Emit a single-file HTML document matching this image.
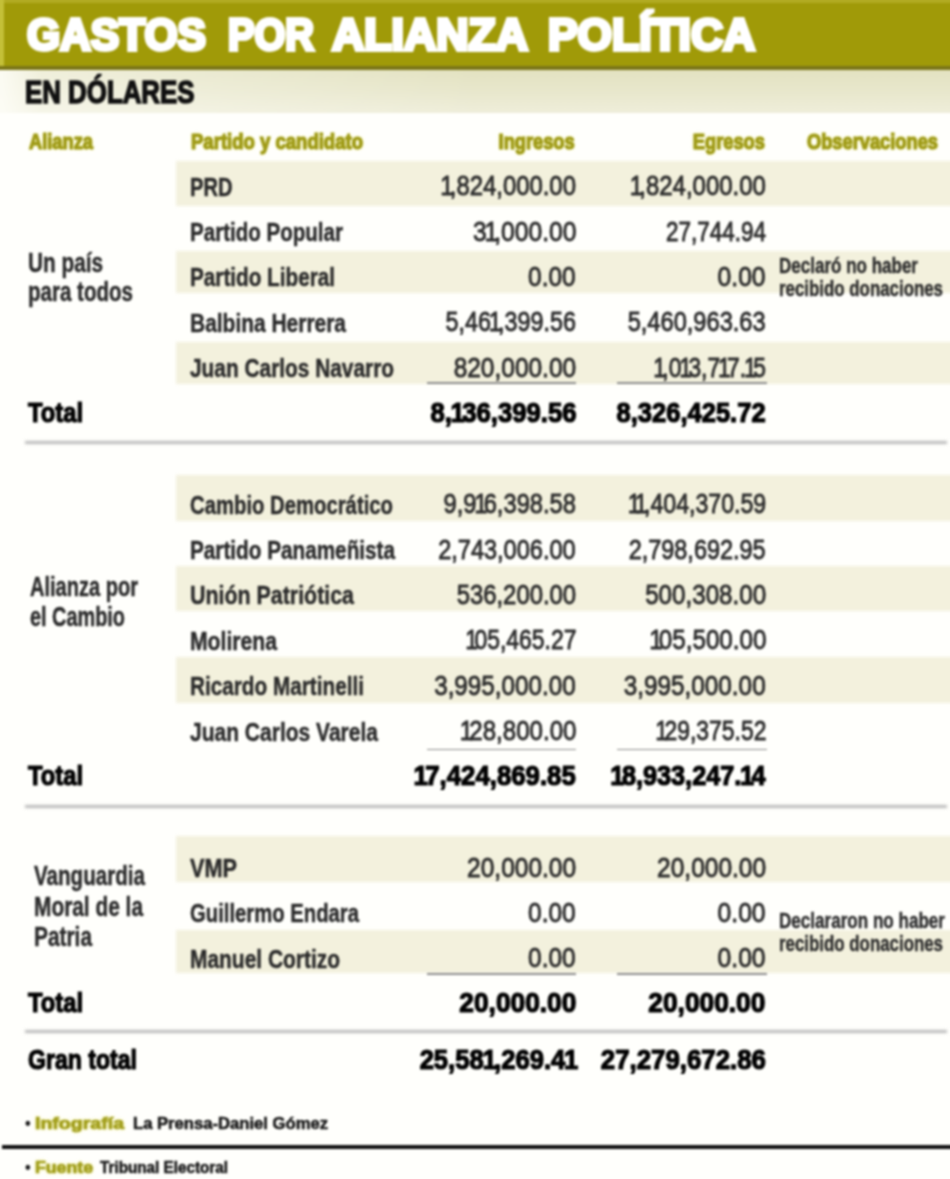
<!DOCTYPE html>
<html lang="es"><head><meta charset="utf-8"><title>Gastos por alianza política</title>
<style>
html,body{margin:0;padding:0;background:#fffffb;}
#pg{position:relative;width:950px;height:1179px;overflow:hidden;background:#fffffc;font-family:"Liberation Sans", sans-serif;}
#in{position:absolute;left:0;top:0;width:950px;height:1179px;filter:blur(1.1px);}
.t{position:absolute;white-space:nowrap;line-height:1;display:block;}
.l{transform-origin:0 0;}
.r{transform-origin:100% 0;}
.b{position:absolute;}
.s{left:176px;width:800px;background:#f3f1dd;filter:blur(1.2px);}
.t i{font-style:normal;margin:0 -0.16em 0 -0.09em;}
.t b{margin:0 -0.1em 0 -0.05em;}
</style></head><body>
<div id="pg"><div id="in">
<div class="b" style="left:-20px;top:-20px;width:990px;height:88.5px;background:#a09a08"></div>
<div class="b" style="left:-20px;top:-20px;width:990px;height:22.5px;background:#b2ab22"></div>
<div class="b" style="left:-20px;top:-20px;width:24px;height:88.5px;background:#c4c038"></div>
<div class="b" style="left:-20px;top:66px;width:990px;height:3.6px;background:#7b7618"></div>
<div class="b" style="left:-20px;top:69.6px;width:990px;height:43px;background:linear-gradient(180deg,#e3e2c1 0,#e8e7cc 50%,#efeeda 100%)"></div>
<div class="b" style="left:-20px;top:69.6px;width:500px;height:43px;background:linear-gradient(90deg,rgba(255,255,250,.85) 0,rgba(255,255,250,.85) 22px,rgba(255,255,250,.45) 60px,rgba(255,255,250,.3) 200px,rgba(255,255,250,0) 100%)"></div>
<div class="b s" style="top:161.2px;height:44.5px"></div>
<div class="b s" style="top:251.2px;height:42.0px"></div>
<div class="b s" style="top:341.8px;height:42.0px"></div>
<div class="b s" style="top:475.3px;height:46.0px"></div>
<div class="b s" style="top:566.2px;height:45.3px"></div>
<div class="b s" style="top:657.2px;height:46.0px"></div>
<div class="b s" style="top:836.0px;height:45.5px"></div>
<div class="b s" style="top:930.4px;height:43.0px"></div>
<div class="b" style="left:25px;top:440.7px;width:922px;height:3.6px;background:#b9b9b9;filter:blur(1.2px)"></div>
<div class="b" style="left:25px;top:804.6px;width:922px;height:3.6px;background:#b9b9b9;filter:blur(1.2px)"></div>
<div class="b" style="left:25px;top:1030.2px;width:922px;height:3.2px;background:#b9b9b9;filter:blur(1.2px)"></div>
<div class="b" style="left:427px;top:382.4px;width:149px;height:1.6px;background:#8e8e8e"></div>
<div class="b" style="left:617px;top:382.4px;width:150px;height:1.6px;background:#8e8e8e"></div>
<div class="b" style="left:427px;top:748.6px;width:149px;height:1.6px;background:#8e8e8e"></div>
<div class="b" style="left:617px;top:748.6px;width:150px;height:1.6px;background:#8e8e8e"></div>
<div class="b" style="left:427px;top:973.4px;width:149px;height:1.6px;background:#8e8e8e"></div>
<div class="b" style="left:617px;top:973.4px;width:150px;height:1.6px;background:#8e8e8e"></div>
<div class="b" style="left:2px;top:1144.9px;width:970px;height:4.4px;background:#111"></div>
<span id="t0" class="t l" style="top:12.88px;font-size:44.2px;font-weight:700;color:#ffffff;left:27px;transform:scaleX(0.9634);-webkit-text-stroke:4px #ffffff;">GASTOS</span>
<span id="t1" class="t l" style="top:12.88px;font-size:44.2px;font-weight:700;color:#ffffff;left:228px;transform:scaleX(0.8980);-webkit-text-stroke:4px #ffffff;">POR</span>
<span id="t2" class="t l" style="top:12.88px;font-size:44.2px;font-weight:700;color:#ffffff;left:332px;transform:scaleX(1.0108);-webkit-text-stroke:4px #ffffff;">ALIANZA</span>
<span id="t3" class="t l" style="top:12.88px;font-size:44.2px;font-weight:700;color:#ffffff;left:548px;transform:scaleX(1.0039);-webkit-text-stroke:4px #ffffff;">POLÍTICA</span>
<span id="t4" class="t l" style="top:75.81px;font-size:32px;font-weight:700;color:#111;left:25.2px;transform:scaleX(0.8079);-webkit-text-stroke:1.5px #111;">EN DÓLARES</span>
<span id="t5" class="t l" style="top:132.10px;font-size:21.5px;font-weight:700;color:#9f9b18;left:28.5px;transform:scaleX(0.8501);-webkit-text-stroke:1.2px #9f9b18;text-shadow:0 0 3px rgba(234,230,92,.95);">Alianza</span>
<span id="t6" class="t l" style="top:132.10px;font-size:21.5px;font-weight:700;color:#9f9b18;left:190.5px;transform:scaleX(0.8621);-webkit-text-stroke:1.2px #9f9b18;text-shadow:0 0 3px rgba(234,230,92,.95);">Partido y candidato</span>
<span id="t7" class="t r" style="top:132.10px;font-size:21.5px;font-weight:700;color:#9f9b18;right:375.5px;transform:scaleX(0.8480);-webkit-text-stroke:1.2px #9f9b18;text-shadow:0 0 3px rgba(234,230,92,.95);">Ingresos</span>
<span id="t8" class="t r" style="top:132.10px;font-size:21.5px;font-weight:700;color:#9f9b18;right:185.5px;transform:scaleX(0.8485);-webkit-text-stroke:1.2px #9f9b18;text-shadow:0 0 3px rgba(234,230,92,.95);">Egresos</span>
<span id="t9" class="t l" style="top:132.10px;font-size:21.5px;font-weight:700;color:#9f9b18;left:806.5px;transform:scaleX(0.8497);-webkit-text-stroke:1.2px #9f9b18;text-shadow:0 0 3px rgba(234,230,92,.95);">Observaciones</span>
<span id="t10" class="t l" style="top:173.57px;font-size:26.5px;font-weight:700;color:#2a2a2a;left:190px;transform:scaleX(0.7596);-webkit-text-stroke:0.45px #2a2a2a;">PRD</span>
<span id="t11" class="t r" style="top:173.14px;font-size:27px;font-weight:400;color:#2c2c2c;right:374px;transform:scaleX(0.8845);-webkit-text-stroke:0.85px #2c2c2c;"><i>1</i>,824,000.00</span>
<span id="t12" class="t r" style="top:173.14px;font-size:27px;font-weight:400;color:#2c2c2c;right:184px;transform:scaleX(0.8878);-webkit-text-stroke:0.85px #2c2c2c;"><i>1</i>,824,000.00</span>
<span id="t13" class="t l" style="top:218.97px;font-size:26.5px;font-weight:700;color:#2a2a2a;left:190px;transform:scaleX(0.7754);-webkit-text-stroke:0.45px #2a2a2a;">Partido Popular</span>
<span id="t14" class="t r" style="top:218.54px;font-size:27px;font-weight:400;color:#2c2c2c;right:374px;transform:scaleX(0.9125);-webkit-text-stroke:0.85px #2c2c2c;">3<i>1</i>,000.00</span>
<span id="t15" class="t r" style="top:218.54px;font-size:27px;font-weight:400;color:#2c2c2c;right:184px;transform:scaleX(0.8325);-webkit-text-stroke:0.85px #2c2c2c;">27,744.94</span>
<span id="t16" class="t l" style="top:264.37px;font-size:26.5px;font-weight:700;color:#2a2a2a;left:190px;transform:scaleX(0.7815);-webkit-text-stroke:0.45px #2a2a2a;">Partido Liberal</span>
<span id="t17" class="t r" style="top:263.94px;font-size:27px;font-weight:400;color:#2c2c2c;right:374px;transform:scaleX(0.9037);-webkit-text-stroke:0.85px #2c2c2c;">0.00</span>
<span id="t18" class="t r" style="top:263.94px;font-size:27px;font-weight:400;color:#2c2c2c;right:184px;transform:scaleX(0.9132);-webkit-text-stroke:0.85px #2c2c2c;">0.00</span>
<span id="t19" class="t l" style="top:309.77px;font-size:26.5px;font-weight:700;color:#2a2a2a;left:190px;transform:scaleX(0.7904);-webkit-text-stroke:0.45px #2a2a2a;">Balbina Herrera</span>
<span id="t20" class="t r" style="top:309.34px;font-size:27px;font-weight:400;color:#2c2c2c;right:374px;transform:scaleX(0.8645);-webkit-text-stroke:0.85px #2c2c2c;">5,46<i>1</i>,399.56</span>
<span id="t21" class="t r" style="top:309.34px;font-size:27px;font-weight:400;color:#2c2c2c;right:184px;transform:scaleX(0.8753);-webkit-text-stroke:0.85px #2c2c2c;">5,460,963.63</span>
<span id="t22" class="t l" style="top:355.17px;font-size:26.5px;font-weight:700;color:#2a2a2a;left:190px;transform:scaleX(0.7870);-webkit-text-stroke:0.45px #2a2a2a;">Juan Carlos Navarro</span>
<span id="t23" class="t r" style="top:354.74px;font-size:27px;font-weight:400;color:#2c2c2c;right:374px;transform:scaleX(0.9065);-webkit-text-stroke:0.85px #2c2c2c;">820,000.00</span>
<span id="t24" class="t r" style="top:354.74px;font-size:27px;font-weight:400;color:#2c2c2c;right:184px;transform:scaleX(0.8446);-webkit-text-stroke:0.85px #2c2c2c;"><i>1</i>,0<i>1</i>3,7<i>1</i>7.<i>1</i>5</span>
<span id="t25" class="t l" style="top:491.57px;font-size:26.5px;font-weight:700;color:#2a2a2a;left:190px;transform:scaleX(0.7658);-webkit-text-stroke:0.45px #2a2a2a;">Cambio Democrático</span>
<span id="t26" class="t r" style="top:491.14px;font-size:27px;font-weight:400;color:#2c2c2c;right:374px;transform:scaleX(0.8778);-webkit-text-stroke:0.85px #2c2c2c;">9,9<i>1</i>6,398.58</span>
<span id="t27" class="t r" style="top:491.14px;font-size:27px;font-weight:400;color:#2c2c2c;right:184px;transform:scaleX(0.8572);-webkit-text-stroke:0.85px #2c2c2c;"><i>1</i><i>1</i>,404,370.59</span>
<span id="t28" class="t l" style="top:536.97px;font-size:26.5px;font-weight:700;color:#2a2a2a;left:190px;transform:scaleX(0.7820);-webkit-text-stroke:0.45px #2a2a2a;">Partido Panameñista</span>
<span id="t29" class="t r" style="top:536.54px;font-size:27px;font-weight:400;color:#2c2c2c;right:374px;transform:scaleX(0.8722);-webkit-text-stroke:0.85px #2c2c2c;">2,743,006.00</span>
<span id="t30" class="t r" style="top:536.54px;font-size:27px;font-weight:400;color:#2c2c2c;right:184px;transform:scaleX(0.8690);-webkit-text-stroke:0.85px #2c2c2c;">2,798,692.95</span>
<span id="t31" class="t l" style="top:582.37px;font-size:26.5px;font-weight:700;color:#2a2a2a;left:190px;transform:scaleX(0.8071);-webkit-text-stroke:0.45px #2a2a2a;">Unión Patriótica</span>
<span id="t32" class="t r" style="top:581.94px;font-size:27px;font-weight:400;color:#2c2c2c;right:374px;transform:scaleX(0.8843);-webkit-text-stroke:0.85px #2c2c2c;">536,200.00</span>
<span id="t33" class="t r" style="top:581.94px;font-size:27px;font-weight:400;color:#2c2c2c;right:184px;transform:scaleX(0.8954);-webkit-text-stroke:0.85px #2c2c2c;">500,308.00</span>
<span id="t34" class="t l" style="top:627.77px;font-size:26.5px;font-weight:700;color:#2a2a2a;left:190px;transform:scaleX(0.7984);-webkit-text-stroke:0.45px #2a2a2a;">Molirena</span>
<span id="t35" class="t r" style="top:627.34px;font-size:27px;font-weight:400;color:#2c2c2c;right:374px;transform:scaleX(0.8488);-webkit-text-stroke:0.85px #2c2c2c;"><i>1</i>05,465.27</span>
<span id="t36" class="t r" style="top:627.34px;font-size:27px;font-weight:400;color:#2c2c2c;right:184px;transform:scaleX(0.8955);-webkit-text-stroke:0.85px #2c2c2c;"><i>1</i>05,500.00</span>
<span id="t37" class="t l" style="top:673.17px;font-size:26.5px;font-weight:700;color:#2a2a2a;left:190px;transform:scaleX(0.7825);-webkit-text-stroke:0.45px #2a2a2a;">Ricardo Martinelli</span>
<span id="t38" class="t r" style="top:672.74px;font-size:27px;font-weight:400;color:#2c2c2c;right:374px;transform:scaleX(0.8975);-webkit-text-stroke:0.85px #2c2c2c;">3,995,000.00</span>
<span id="t39" class="t r" style="top:672.74px;font-size:27px;font-weight:400;color:#2c2c2c;right:184px;transform:scaleX(0.9007);-webkit-text-stroke:0.85px #2c2c2c;">3,995,000.00</span>
<span id="t40" class="t l" style="top:718.57px;font-size:26.5px;font-weight:700;color:#2a2a2a;left:190px;transform:scaleX(0.7927);-webkit-text-stroke:0.45px #2a2a2a;">Juan Carlos Varela</span>
<span id="t41" class="t r" style="top:718.14px;font-size:27px;font-weight:400;color:#2c2c2c;right:374px;transform:scaleX(0.8916);-webkit-text-stroke:0.85px #2c2c2c;"><i>1</i>28,800.00</span>
<span id="t42" class="t r" style="top:718.14px;font-size:27px;font-weight:400;color:#2c2c2c;right:184px;transform:scaleX(0.8488);-webkit-text-stroke:0.85px #2c2c2c;"><i>1</i>29,375.52</span>
<span id="t43" class="t l" style="top:855.07px;font-size:26.5px;font-weight:700;color:#2a2a2a;left:190px;transform:scaleX(0.8183);-webkit-text-stroke:0.45px #2a2a2a;">VMP</span>
<span id="t44" class="t r" style="top:854.64px;font-size:27px;font-weight:400;color:#2c2c2c;right:374px;transform:scaleX(0.9074);-webkit-text-stroke:0.85px #2c2c2c;">20,000.00</span>
<span id="t45" class="t r" style="top:854.64px;font-size:27px;font-weight:400;color:#2c2c2c;right:184px;transform:scaleX(0.9074);-webkit-text-stroke:0.85px #2c2c2c;">20,000.00</span>
<span id="t46" class="t l" style="top:900.47px;font-size:26.5px;font-weight:700;color:#2a2a2a;left:190px;transform:scaleX(0.7651);-webkit-text-stroke:0.45px #2a2a2a;">Guillermo Endara</span>
<span id="t47" class="t r" style="top:900.04px;font-size:27px;font-weight:400;color:#2c2c2c;right:374px;transform:scaleX(0.9037);-webkit-text-stroke:0.85px #2c2c2c;">0.00</span>
<span id="t48" class="t r" style="top:900.04px;font-size:27px;font-weight:400;color:#2c2c2c;right:184px;transform:scaleX(0.9132);-webkit-text-stroke:0.85px #2c2c2c;">0.00</span>
<span id="t49" class="t l" style="top:945.87px;font-size:26.5px;font-weight:700;color:#2a2a2a;left:190px;transform:scaleX(0.7898);-webkit-text-stroke:0.45px #2a2a2a;">Manuel Cortizo</span>
<span id="t50" class="t r" style="top:945.44px;font-size:27px;font-weight:400;color:#2c2c2c;right:374px;transform:scaleX(0.9037);-webkit-text-stroke:0.85px #2c2c2c;">0.00</span>
<span id="t51" class="t r" style="top:945.44px;font-size:27px;font-weight:400;color:#2c2c2c;right:184px;transform:scaleX(0.9132);-webkit-text-stroke:0.85px #2c2c2c;">0.00</span>
<span id="t52" class="t l" style="top:398.72px;font-size:27.5px;font-weight:700;color:#000;left:27.5px;transform:scaleX(0.8640);-webkit-text-stroke:1.2px #000;">Total</span>
<span id="t53" class="t r" style="top:398.72px;font-size:27.5px;font-weight:700;color:#000;right:374px;transform:scaleX(0.9332);-webkit-text-stroke:1.2px #000;">8,<b>1</b>36,399.56</span>
<span id="t54" class="t r" style="top:398.72px;font-size:27.5px;font-weight:700;color:#000;right:184.5px;transform:scaleX(0.9279);-webkit-text-stroke:1.2px #000;">8,326,425.72</span>
<span id="t55" class="t l" style="top:762.22px;font-size:27.5px;font-weight:700;color:#000;left:27.5px;transform:scaleX(0.8640);-webkit-text-stroke:1.2px #000;">Total</span>
<span id="t56" class="t r" style="top:762.22px;font-size:27.5px;font-weight:700;color:#000;right:374px;transform:scaleX(0.9374);-webkit-text-stroke:1.2px #000;"><b>1</b>7,424,869.85</span>
<span id="t57" class="t r" style="top:762.22px;font-size:27.5px;font-weight:700;color:#000;right:184.5px;transform:scaleX(0.9187);-webkit-text-stroke:1.2px #000;"><b>1</b>8,933,247.<b>1</b>4</span>
<span id="t58" class="t l" style="top:989.02px;font-size:27.5px;font-weight:700;color:#000;left:27.5px;transform:scaleX(0.8640);-webkit-text-stroke:1.2px #000;">Total</span>
<span id="t59" class="t r" style="top:989.02px;font-size:27.5px;font-weight:700;color:#000;right:374px;transform:scaleX(0.9563);-webkit-text-stroke:1.2px #000;">20,000.00</span>
<span id="t60" class="t r" style="top:989.02px;font-size:27.5px;font-weight:700;color:#000;right:184.5px;transform:scaleX(0.9563);-webkit-text-stroke:1.2px #000;">20,000.00</span>
<span id="t61" class="t l" style="top:1046.22px;font-size:27.5px;font-weight:700;color:#000;left:27.5px;transform:scaleX(0.8393);-webkit-text-stroke:1.2px #000;">Gran total</span>
<span id="t62" class="t r" style="top:1046.22px;font-size:27.5px;font-weight:700;color:#000;right:374px;transform:scaleX(0.9306);-webkit-text-stroke:1.2px #000;">25,58<b>1</b>,269.4<b>1</b></span>
<span id="t63" class="t r" style="top:1046.22px;font-size:27.5px;font-weight:700;color:#000;right:184.5px;transform:scaleX(0.9382);-webkit-text-stroke:1.2px #000;">27,279,672.86</span>
<span id="t64" class="t l" style="top:248.72px;font-size:27.5px;font-weight:700;color:#2a2a2a;left:28px;transform:scaleX(0.7551);-webkit-text-stroke:0.45px #2a2a2a;">Un país</span>
<span id="t65" class="t l" style="top:277.72px;font-size:27.5px;font-weight:700;color:#2a2a2a;left:28px;transform:scaleX(0.7469);-webkit-text-stroke:0.45px #2a2a2a;">para todos</span>
<span id="t66" class="t l" style="top:572.72px;font-size:27.5px;font-weight:700;color:#2a2a2a;left:30px;transform:scaleX(0.7287);-webkit-text-stroke:0.45px #2a2a2a;">Alianza por</span>
<span id="t67" class="t l" style="top:603.22px;font-size:27.5px;font-weight:700;color:#2a2a2a;left:30px;transform:scaleX(0.7229);-webkit-text-stroke:0.45px #2a2a2a;">el Cambio</span>
<span id="t68" class="t l" style="top:861.72px;font-size:27.5px;font-weight:700;color:#2a2a2a;left:34px;transform:scaleX(0.7487);-webkit-text-stroke:0.45px #2a2a2a;">Vanguardia</span>
<span id="t69" class="t l" style="top:892.92px;font-size:27.5px;font-weight:700;color:#2a2a2a;left:34px;transform:scaleX(0.7588);-webkit-text-stroke:0.45px #2a2a2a;">Moral de la</span>
<span id="t70" class="t l" style="top:922.72px;font-size:27.5px;font-weight:700;color:#2a2a2a;left:34px;transform:scaleX(0.7588);-webkit-text-stroke:0.45px #2a2a2a;">Patria</span>
<span id="t71" class="t l" style="top:255.97px;font-size:21.3px;font-weight:700;color:#2c2c2c;left:779px;transform:scaleX(0.7989);-webkit-text-stroke:0.4px #2c2c2c;">Declaró no haber</span>
<span id="t72" class="t l" style="top:278.97px;font-size:21.3px;font-weight:700;color:#2c2c2c;left:779px;transform:scaleX(0.7919);-webkit-text-stroke:0.4px #2c2c2c;">recibido donaciones</span>
<span id="t73" class="t l" style="top:910.97px;font-size:21.3px;font-weight:700;color:#2c2c2c;left:779px;transform:scaleX(0.8014);-webkit-text-stroke:0.4px #2c2c2c;">Declararon no haber</span>
<span id="t74" class="t l" style="top:933.97px;font-size:21.3px;font-weight:700;color:#2c2c2c;left:779px;transform:scaleX(0.7919);-webkit-text-stroke:0.4px #2c2c2c;">recibido donaciones</span>
<span id="t75" class="t l" style="top:1114.26px;font-size:18px;font-weight:700;color:#1a1a1a;left:25px;transform:scaleX(0.9000);">•</span>
<span id="t76" class="t l" style="top:1115.99px;font-size:15.6px;font-weight:700;color:#a19e1c;left:35px;transform:scaleX(1.2527);-webkit-text-stroke:0.7px #a19e1c;text-shadow:0 0 3px rgba(234,230,92,.95);">Infografía</span>
<span id="t77" class="t l" style="top:1115.99px;font-size:15.6px;font-weight:700;color:#181818;left:133px;transform:scaleX(1.0664);-webkit-text-stroke:0.55px #181818;">La Prensa-Daniel Gómez</span>
<span id="t78" class="t l" style="top:1158.26px;font-size:18px;font-weight:700;color:#1a1a1a;left:25px;transform:scaleX(0.9000);">•</span>
<span id="t79" class="t l" style="top:1159.99px;font-size:15.6px;font-weight:700;color:#a19e1c;left:35px;transform:scaleX(1.1345);-webkit-text-stroke:0.7px #a19e1c;text-shadow:0 0 3px rgba(234,230,92,.95);">Fuente</span>
<span id="t80" class="t l" style="top:1159.99px;font-size:15.6px;font-weight:700;color:#181818;left:100px;transform:scaleX(0.9781);-webkit-text-stroke:0.55px #181818;">Tribunal Electoral</span>
</div></div>
</body></html>
